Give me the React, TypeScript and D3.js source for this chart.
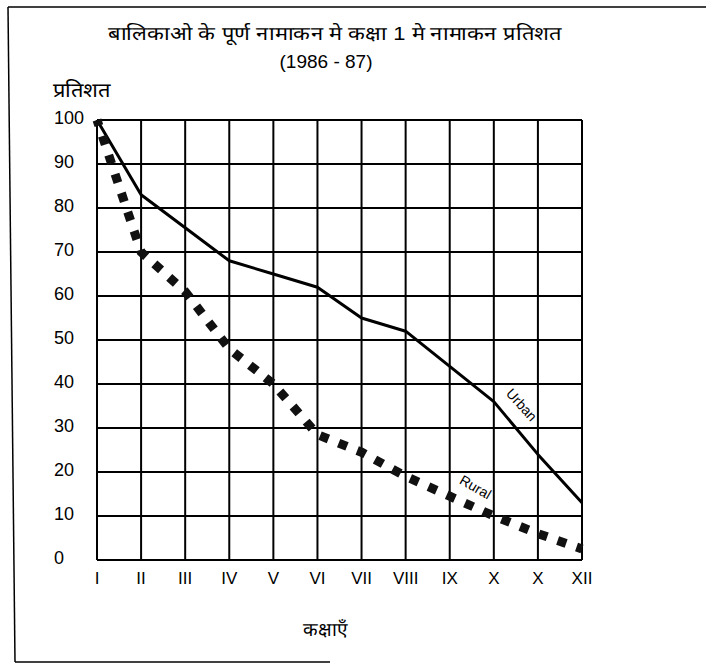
import React from "react";
import * as d3 from "d3";

// कक्षाएँ (x axis) - the source repeats "X" for class XI
const classes = ["I", "II", "III", "IV", "V", "VI", "VII", "VIII", "IX", "X", "X", "XII"];
const urban = [100, 83, 75.5, 68, 65, 62, 55, 52, 44, 36, 24, 13];
const rural = [100, 70, 61, 48, 40, 28.5, 24.5, 19, 14.5, 10, 6, 2.5];
const yTicks = [0, 10, 20, 30, 40, 50, 60, 70, 80, 90, 100];

const title = "बालिकाओ के पूर्ण नामाकन मे कक्षा 1 मे नामाकन प्रतिशत";
const subtitle = "(1986 - 87)";
const yTitle = "प्रतिशत";
const xTitle = "कक्षाएँ";

const W = 706, H = 665;
const font = "'Liberation Sans', Arial, sans-serif";

export default function App() {
  const x = d3.scaleLinear().domain([0, classes.length - 1]).range([97, 582]);
  const y = d3.scaleLinear().domain([0, 100]).range([560, 120]);

  const line = d3.line<number>().x((d, i) => x(i)).y((d) => y(d));

  return (
    <svg width={W} height={H} style={{ position: "absolute", left: 0, top: 0, display: "block", background: "#fff" }}>
      {/* page frame (scanned, only partly visible) */}
      <line x1={8} y1={7} x2={W} y2={7} stroke="#000" strokeWidth={1.5} />
      <line x1={8} y1={7} x2={15} y2={662} stroke="#000" strokeWidth={1.5} />
      <line x1={15} y1={662} x2={330} y2={662} stroke="#000" strokeWidth={1.5} />

      {/* titles */}
      <text x={335} y={40} textAnchor="middle" fontSize={19} textLength={454} lengthAdjust="spacingAndGlyphs" fontFamily={font} fill="#000">{title}</text>
      <text x={326} y={68} textAnchor="middle" fontSize={19} fontFamily={font} fill="#000">{subtitle}</text>
      <text x={53} y={97} fontSize={20} textLength={57} lengthAdjust="spacingAndGlyphs" fontFamily={font} fill="#000">{yTitle}</text>

      {/* grid */}
      <g stroke="#000" strokeWidth={2}>
        {yTicks.map((t) => (
          <line key={"h" + t} x1={x(0)} x2={x(classes.length - 1)} y1={y(t)} y2={y(t)} />
        ))}
        {classes.map((c, i) => (
          <line key={"v" + i} x1={x(i)} x2={x(i)} y1={y(100)} y2={y(0)} />
        ))}
      </g>

      {/* y tick labels */}
      {yTicks.map((t) => (
        <text key={"yl" + t} x={54} y={y(t) + 3.5} fontSize={18} fontFamily={font} fill="#000">{t}</text>
      ))}

      {/* x tick labels */}
      {classes.map((c, i) => (
        <text key={"xl" + i} x={x(i)} y={584} textAnchor="middle" fontSize={17} fontFamily={font} fill="#000">{c}</text>
      ))}
      <text x={325} y={636} textAnchor="middle" fontSize={19} fontFamily={font} fill="#000">{xTitle}</text>

      {/* series */}
      <path d={line(urban) ?? ""} fill="none" stroke="#000" strokeWidth={3} strokeLinejoin="round" />
      <path d={line(rural) ?? ""} fill="none" stroke="#111" strokeWidth={9} strokeDasharray="9 11" strokeDashoffset={3} />

      {/* series labels */}
      <text transform={`translate(${x(9.55)},${y(34.5)}) rotate(48)`} textAnchor="middle" fontSize={14} fontFamily={font} fill="#000">Urban</text>
      <text transform={`translate(${x(8.53)},${y(15.6)}) rotate(30)`} textAnchor="middle" fontSize={14} fontFamily={font} fill="#000">Rural</text>
    </svg>
  );
}
